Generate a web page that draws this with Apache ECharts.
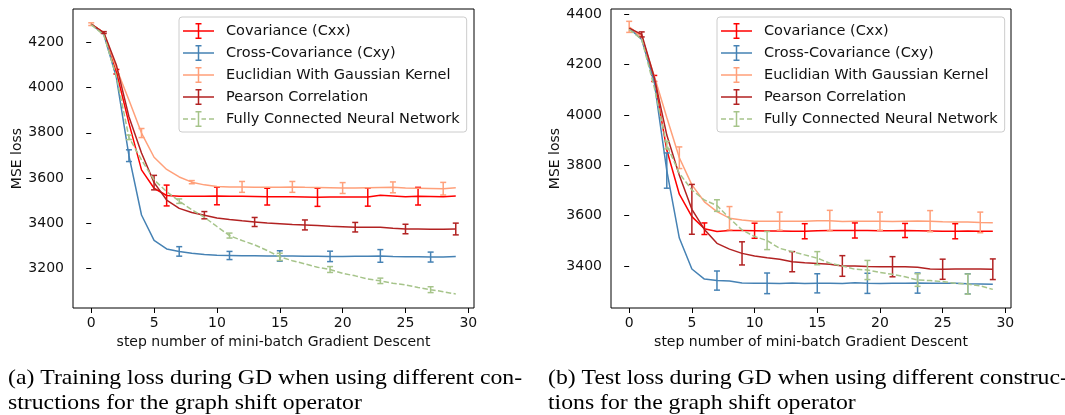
<!DOCTYPE html>
<html>
<head>
<meta charset="utf-8">
<script src="https://cdn.jsdelivr.net/npm/echarts@6/dist/echarts.min.js"></script>
<style>
html,body{margin:0;padding:0;background:#fff;}
#chart{width:1065px;height:415px;}
</style>
</head>
<body>
<div id="chart"></div>
<script>
// ---------- data ----------
const steps = Array.from({length: 30}, (_, i) => i);
const seriesNames = ['Covariance (Cxx)', 'Cross-Covariance (Cxy)', 'Euclidian With Gaussian Kernel', 'Pearson Correlation', 'Fully Connected Neural Network'];
const xTicks = [0, 5, 10, 15, 20, 25, 30];
const trainYTicks = [3200, 3400, 3600, 3800, 4000, 4200];
const testYTicks = [3400, 3600, 3800, 4000, 4200, 4400];

// training loss (a)
const trainCxx  = [4280, 4242, 4070, 3843, 3636, 3555, 3523, 3520, 3520, 3520, 3521, 3520, 3520, 3519, 3518, 3518, 3517, 3516, 3515, 3516, 3516, 3516, 3516, 3524, 3521, 3518, 3520, 3519, 3518, 3521];
const trainCxy  = [4280, 4235, 4045, 3699, 3437, 3325, 3287, 3276, 3268, 3262, 3259, 3258, 3257, 3257, 3256, 3256, 3256, 3255, 3255, 3254, 3254, 3255, 3255, 3256, 3253, 3252, 3252, 3251, 3251, 3253];
const trainEuc  = [4280, 4243, 4085, 3945, 3799, 3692, 3638, 3605, 3582, 3570, 3563, 3561, 3561, 3560, 3560, 3560, 3561, 3559, 3558, 3557, 3556, 3556, 3557, 3558, 3559, 3556, 3555, 3554, 3553, 3557];
const trainPear = [4280, 4243, 4100, 3871, 3711, 3580, 3503, 3466, 3448, 3436, 3424, 3417, 3411, 3406, 3401, 3398, 3395, 3393, 3390, 3387, 3385, 3383, 3383, 3383, 3378, 3375, 3375, 3374, 3374, 3375];
const trainFc   = [4278, 4232, 4050, 3780, 3680, 3592, 3540, 3498, 3460, 3427, 3386, 3346, 3324, 3305, 3280, 3252, 3235, 3221, 3206, 3196, 3179, 3168, 3154, 3146, 3135, 3128, 3117, 3107, 3098, 3088];
// error bars: [step, half-width]
const trainCxxErr  = [[2, 10], [6, 46], [10, 39], [14, 37], [18, 40], [22, 40], [26, 39]];
const trainCxyErr  = [[3, 26], [7, 21], [11, 18], [15, 23], [19, 23], [23, 28], [27, 22]];
const trainEucErr  = [[0, 6], [4, 20], [8, 7], [12, 24], [16, 24], [20, 24], [24, 24], [28, 28]];
const trainPearErr = [[1, 4], [5, 32], [9, 16], [13, 20], [17, 22], [21, 21], [25, 21], [29, 26]];
const trainFcErr   = [[3, 10], [7, 10], [11, 11], [15, 16], [19, 13], [23, 12], [27, 13]];

// test loss (b)
const testCxx  = [4347, 4312, 4145, 3861, 3685, 3596, 3548, 3537, 3541, 3541, 3540, 3539, 3539, 3538, 3538, 3540, 3541, 3541, 3541, 3541, 3540, 3540, 3541, 3540, 3539, 3538, 3538, 3539, 3538, 3538];
const testCxy  = [4345, 4300, 4130, 3779, 3511, 3388, 3348, 3342, 3340, 3332, 3331, 3331, 3330, 3332, 3330, 3331, 3331, 3330, 3333, 3331, 3330, 3331, 3331, 3332, 3331, 3331, 3331, 3329, 3328, 3327];
const testEuc  = [4350, 4310, 4155, 3990, 3830, 3722, 3655, 3616, 3590, 3583, 3578, 3578, 3578, 3578, 3578, 3580, 3580, 3577, 3578, 3578, 3578, 3577, 3578, 3579, 3578, 3576, 3575, 3575, 3573, 3572];
const testPear = [4345, 4320, 4150, 3920, 3760, 3625, 3545, 3490, 3467, 3450, 3440, 3433, 3427, 3417, 3413, 3410, 3407, 3400, 3400, 3398, 3397, 3397, 3397, 3395, 3388, 3387, 3388, 3388, 3388, 3387];
const testFc   = [4340, 4300, 4110, 3880, 3768, 3702, 3662, 3640, 3590, 3543, 3517, 3501, 3470, 3457, 3444, 3431, 3411, 3400, 3387, 3384, 3374, 3367, 3357, 3344, 3342, 3338, 3331, 3328, 3321, 3307];
const testCxxErr  = [[2, 12], [6, 23], [10, 30], [14, 30], [18, 30], [22, 28], [26, 30]];
const testCxyErr  = [[3, 70], [7, 38], [11, 41], [15, 38], [19, 40], [23, 40], [27, 40]];
const testEucErr  = [[0, 22], [4, 43], [8, 46], [12, 36], [16, 41], [20, 36], [24, 42], [28, 41]];
const testPearErr = [[1, 10], [5, 99], [9, 46], [13, 40], [17, 41], [21, 40], [25, 40], [29, 41]];
const testFcErr   = [[3, 15], [7, 23], [11, 36], [15, 26], [19, 38], [23, 25], [27, 40]];

const captionA = ['(a) Training loss during GD when using different con-', 'structions for the graph shift operator'];
const captionB = ['(b) Test loss during GD when using different construc-', 'tions for the graph shift operator'];

// ---------- styling ----------
const colors = ['#ff0000', '#4682b4', '#ffa07a', '#b22222', '#a6c48a'];
const FONT = 'DejaVu Sans';

const iconSolid = 'path://M0 7.25H31V8.75H0Z M14.75 0H16.25V16H14.75Z M12.5 0H18.5V1.5H12.5Z M12.5 14.5H18.5V16H12.5Z';
const iconDash = 'path://M0 7.25H5V8.75H0Z M8 7.25H12.5V8.75H8Z M18.5 7.25H23V8.75H18.5Z M26 7.25H31V8.75H26Z M14.75 0H16.25V16H14.75Z M12.5 0H18.5V1.5H12.5Z M12.5 14.5H18.5V16H12.5Z';

function errData(vals, errs) {
  return errs.map(([s, e]) => [s, vals[s] - e, vals[s] + e]);
}

function makeErrRender(color) {
  return function (params, api) {
    const x = api.value(0), lo = api.value(1), hi = api.value(2);
    const a = api.coord([x, lo]), b = api.coord([x, hi]);
    const c = 3;
    const st = {stroke: color, lineWidth: 1.5};
    return {
      type: 'group',
      children: [
        {type: 'line', shape: {x1: a[0], y1: a[1], x2: b[0], y2: b[1]}, style: st},
        {type: 'line', shape: {x1: a[0] - c, y1: a[1], x2: a[0] + c, y2: a[1]}, style: st},
        {type: 'line', shape: {x1: b[0] - c, y1: b[1], x2: b[0] + c, y2: b[1]}, style: st}
      ]
    };
  };
}

const groups = [
  {vals: [trainCxx, trainCxy, trainEuc, trainPear, trainFc], errs: [trainCxxErr, trainCxyErr, trainEucErr, trainPearErr, trainFcErr]},
  {vals: [testCxx, testCxy, testEuc, testPear, testFc], errs: [testCxxErr, testCxyErr, testEucErr, testPearErr, testFcErr]}
];

const series = [];
groups.forEach((g, gi) => {
  g.vals.forEach((v, si) => {
    const col = colors[si];
    const dashed = si === 4;
    series.push({
      name: seriesNames[si],
      type: 'line',
      xAxisIndex: gi, yAxisIndex: gi,
      data: steps.map(s => [s, v[s]]),
      showSymbol: false,
      symbol: 'none',
      color: col,
      itemStyle: {color: col},
      lineStyle: {color: col, width: 1.5, type: dashed ? [5.5, 2.4] : 'solid'},
      z: 2 + si * 2,
      animation: false,
      silent: true
    });
    series.push({
      name: seriesNames[si] + ' err',
      type: 'custom',
      xAxisIndex: gi, yAxisIndex: gi,
      data: errData(v, g.errs[si]),
      encode: {x: 0, y: [1, 2]},
      renderItem: makeErrRender(col),
      z: 3 + si * 2,
      animation: false,
      silent: true
    });
  });
});

const legendData = seriesNames.map((n, i) => ({name: n, icon: i === 4 ? iconDash : iconSolid}));
function makeLegend(left) {
  return {
    left: left, top: 17,
    orient: 'vertical',
    align: 'left',
    data: legendData,
    itemWidth: 31, itemHeight: 16, itemGap: 6,
    padding: [6, 7, 5, 4],
    backgroundColor: 'rgba(255,255,255,0.8)',
    borderColor: '#cccccc', borderWidth: 1, borderRadius: 3,
    selectedMode: false,
    itemStyle: {borderWidth: 0},
    textStyle: {fontFamily: FONT, fontSize: 14.5, color: '#111', padding: [0, 0, 0, 7]}
  };
}

function makeX(gi) {
  return {
    type: 'value', gridIndex: gi, min: -1.45, max: 30.45,
    name: 'step number of mini-batch Gradient Descent', nameLocation: 'middle', nameGap: 25,
    nameTextStyle: {fontFamily: FONT, fontSize: 14, color: '#111'},
    axisLine: {show: false},
    axisTick: {show: true, inside: false, length: 5, lineStyle: {color: '#000', width: 1}, customValues: xTicks},
    axisLabel: {fontFamily: FONT, fontSize: 14, color: '#111', margin: 8, customValues: xTicks, formatter: v => String(v)},
    splitLine: {show: false}
  };
}
function makeY(gi, min, max, ticks) {
  return {
    type: 'value', gridIndex: gi, min: min, max: max,
    name: 'MSE loss', nameLocation: 'middle', nameGap: 48, nameRotate: 90,
    nameTextStyle: {fontFamily: FONT, fontSize: 14, color: '#111'},
    axisLine: {show: false},
    axisTick: {show: true, inside: false, length: 5, lineStyle: {color: '#000', width: 1}, customValues: ticks},
    axisLabel: {fontFamily: FONT, fontSize: 14, color: '#111', margin: 9, customValues: ticks, formatter: v => String(v)},
    splitLine: {show: false}
  };
}

function captionGraphic(lines, left) {
  return {
    type: 'text', x: left, y: 366, scaleX: 1.13,
    style: {text: lines.join('\n'), font: '21px "Liberation Serif"', fill: '#000', lineHeight: 25}
  };
}

const option = {
  animation: false,
  backgroundColor: '#fff',
  grid: [
    {left: 73, right: 591, top: 9, bottom: 107, show: true, borderColor: '#000', borderWidth: 1, backgroundColor: 'transparent'},
    {left: 611, right: 54, top: 9, bottom: 107, show: true, borderColor: '#000', borderWidth: 1, backgroundColor: 'transparent'}
  ],
  legend: [makeLegend(179), makeLegend(717)],
  xAxis: [makeX(0), makeX(1)],
  yAxis: [makeY(0, 3026, 4347, trainYTicks), makeY(1, 3233, 4421, testYTicks)],
  series: series,
  graphic: [captionGraphic(captionA, 8), captionGraphic(captionB, 548)]
};

const chart = echarts.init(document.getElementById('chart'), null, {renderer: 'canvas'});
chart.setOption(option);
</script>
</body>
</html>
